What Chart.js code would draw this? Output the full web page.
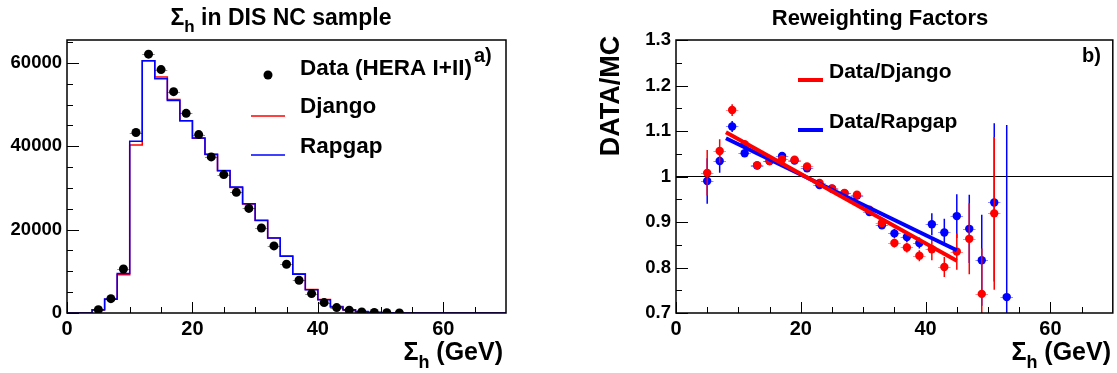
<!DOCTYPE html>
<html>
<head>
<meta charset="utf-8">
<script src="https://cdn.jsdelivr.net/npm/chart.js@4.4.1/dist/chart.umd.min.js"></script>
<style>
  html, body { margin: 0; padding: 0; background: #fff; }
  #wrap { position: relative; width: 1117px; height: 373px; }
  canvas { position: absolute; top: 0; }
  #chartSigma { left: 0; }
  #chartRatio { left: 558px; }
</style>
</head>
<body>
<div id="wrap">
  <canvas id="chartSigma" width="558" height="373"></canvas>
  <canvas id="chartRatio" width="559" height="373"></canvas>
</div>
<script>
// --- a) Sigma_h histogram (2 GeV bins) ---
const binEdges = [0, 2, 4, 6, 8, 10, 12, 14, 16, 18, 20, 22, 24, 26, 28, 30, 32, 34, 36, 38,
                  40, 42, 44, 46, 48, 50, 52, 54, 56, 58, 60, 62, 64, 66, 68, 70];
const djangoCounts = [0, 0, 790, 3270, 9200, 40300, 60500, 56600, 51250, 46150, 41900, 38000,
                      34200, 30100, 26150, 22250, 18000, 13700, 9400, 5650, 3250, 1560, 780, 300,
                      150, 55, 15, 0, 0, 0, 0, 0, 0, 0, 0];
const rapgapCounts = [0, 0, 800, 3350, 9450, 41200, 60500, 56200, 51000, 46150, 42000, 38100,
                      34150, 30250, 26200, 22200, 18000, 13600, 9300, 5550, 3200, 1450, 800, 330,
                      120, 50, 20, 0, 0, 0, 0, 0, 0, 0, 0];
const dataCenters = [5, 7, 9, 11, 13, 15, 17, 19, 21, 23, 25, 27, 29, 31, 33, 35, 37, 39, 41, 43,
                     45, 47, 49, 51, 53];
const dataCounts = [800, 3440, 10560, 43300, 62100, 58400, 53100, 47900, 42800, 37450, 33200,
                    28950, 25100, 20400, 16100, 11700, 7850, 4650, 2500, 1300, 650, 260, 110, 50, 20];
const sigmaTicks = [0, 20, 40, 60];
const countTicks = [0, 20000, 40000, 60000];
const countTickLabels = ['0', '20000', '40000', '60000'];

// --- b) reweighting factors ---
const ratioCenters = [5, 7, 9, 11, 13, 15, 17, 19, 21, 23, 25, 27, 29, 31, 33, 35, 37, 39, 41, 43,
                      45, 47, 49, 51, 53];
const ratioDjango = [1.008, 1.056, 1.146, 1.071, 1.025, 1.034, 1.038, 1.037, 1.022, 0.986, 0.974,
                     0.964, 0.960, 0.927, 0.898, 0.854, 0.844, 0.826, 0.840, 0.801, 0.835, 0.863,
                     0.742, 0.919, null];
const errDjango = [0.05, 0.026, 0.013, 0.006, 0.005, 0.005, 0.005, 0.005, 0.005, 0.005, 0.005,
                   0.005, 0.006, 0.007, 0.008, 0.010, 0.011, 0.012, 0.024, 0.022, 0.040, 0.078,
                   0.10, 0.168, 0];
const ratioRapgap = [0.990, 1.034, 1.110, 1.051, 1.024, 1.034, 1.045, 1.035, 1.018, 0.981, 0.973,
                     0.963, 0.958, 0.922, 0.893, 0.875, 0.867, 0.854, 0.895, 0.877, 0.913, 0.885,
                     0.816, 0.943, 0.735];
const errRapgap = [0.05, 0.026, 0.012, 0.006, 0.005, 0.005, 0.005, 0.005, 0.005, 0.005, 0.005,
                   0.005, 0.006, 0.007, 0.008, 0.010, 0.011, 0.012, 0.024, 0.030, 0.048, 0.075,
                   0.10, 0.174, 0.378];
const fitRange = [8, 45];
const fitDjango = [1.097, 0.815];
const fitRapgap = [1.084, 0.838];
const ratioTicks = [0.7, 0.8, 0.9, 1, 1.1, 1.2, 1.3];
const ratioTickLabels = ['0.7', '0.8', '0.9', '1', '1.1', '1.2', '1.3'];

const FONT = '"Liberation Sans", Arial, Helvetica, sans-serif';
const rojo = '#ff0000';
const azul = '#0000ff';

// texto con subindice: parts = [[texto, esSub]]
function drawSub(ctx, parts, x, y, align, size) {
  const big = 'bold ' + size + 'px ' + FONT;
  const small = 'bold ' + Math.round(size * 0.72) + 'px ' + FONT;
  let w = 0;
  parts.forEach(p => { ctx.font = p[1] ? small : big; w += ctx.measureText(p[0]).width; });
  let cx = align === 'center' ? x - w / 2 : (align === 'right' ? x - w : x);
  ctx.textAlign = 'left';
  ctx.textBaseline = 'alphabetic';
  ctx.fillStyle = '#000';
  parts.forEach(p => {
    ctx.font = p[1] ? small : big;
    ctx.fillText(p[0], cx, p[1] ? y + size * 0.32 : y);
    cx += ctx.measureText(p[0]).width;
  });
}

function drawText(ctx, txt, x, y, size) {
  ctx.font = 'bold ' + size + 'px ' + FONT;
  ctx.textAlign = 'left';
  ctx.textBaseline = 'alphabetic';
  ctx.fillStyle = '#000';
  ctx.fillText(txt, x, y);
}

// marco y marcas hacia dentro, estilo ROOT
const rootAxes = {
  id: 'rootAxes',
  afterDatasetsDraw(chart, args, opts) {
    const { ctx, chartArea: a, scales: { x, y } } = chart;
    ctx.save();
    ctx.strokeStyle = '#000';
    ctx.lineWidth = 1;
    ctx.beginPath();
    for (let v = x.min; v < x.max; v += opts.xMinor) {
      const px = Math.round(x.getPixelForValue(v)) + 0.5;
      const len = opts.xMajor.includes(v) ? 11 : 6;
      ctx.moveTo(px, a.bottom);
      ctx.lineTo(px, a.bottom - len);
    }
    const ny = Math.round((y.max - y.min) / opts.yMinor);
    for (let i = 0; i <= ny; i++) {
      const v = y.min + i * opts.yMinor;
      const py = Math.round(y.getPixelForValue(v)) + 0.5;
      const major = opts.yMajor.some(m => Math.abs(m - v) < opts.yMinor / 10);
      ctx.moveTo(a.left, py);
      ctx.lineTo(a.left + (major ? 12 : 6), py);
    }
    ctx.stroke();
    ctx.lineWidth = 1.5;
    ctx.strokeRect(a.left, a.top, a.right - a.left, a.bottom - a.top);
    ctx.restore();
  }
};

// barras de error (x: +-1 GeV, y: err)
const errorBars = {
  id: 'errorBars',
  beforeDatasetDraw(chart, args) {
    const ds = chart.data.datasets[args.index];
    if (!ds.errY && !ds.showXErr) return;
    const { ctx, chartArea: a, scales: { x, y } } = chart;
    ctx.save();
    ctx.beginPath();
    ctx.rect(a.left, a.top, a.right - a.left, a.bottom - a.top);
    ctx.clip();
    ds.data.forEach((p, i) => {
      const px = x.getPixelForValue(p.x);
      const py = y.getPixelForValue(p.y);
      ctx.globalAlpha = 0.45;
      ctx.strokeStyle = ds.pointBackgroundColor;
      ctx.lineWidth = 1;
      ctx.beginPath();
      ctx.moveTo(x.getPixelForValue(p.x - 1), Math.round(py) + 0.5);
      ctx.lineTo(x.getPixelForValue(p.x + 1), Math.round(py) + 0.5);
      ctx.stroke();
      if (ds.errY) {
        const e = ds.errY[i];
        ctx.globalAlpha = 1;
        ctx.lineWidth = 1.5;
        ctx.beginPath();
        ctx.moveTo(px, y.getPixelForValue(p.y + e));
        ctx.lineTo(px, y.getPixelForValue(p.y - e));
        ctx.stroke();
      }
    });
    ctx.restore();
  }
};

const leftDecor = {
  id: 'leftDecor',
  afterDraw(chart) {
    const ctx = chart.ctx;
    drawSub(ctx, [['\u03A3'], ['h', 1], [' in DIS NC sample']], 281, 25, 'center', 23);
    drawSub(ctx, [['\u03A3'], ['h', 1], [' (GeV)']], 503, 360, 'right', 25);
    // leyenda
    ctx.fillStyle = '#000';
    ctx.beginPath();
    ctx.arc(268, 75, 4.5, 0, Math.PI * 2);
    ctx.fill();
    ctx.lineWidth = 1.5;
    ctx.strokeStyle = rojo;
    ctx.beginPath(); ctx.moveTo(251, 116); ctx.lineTo(285, 116); ctx.stroke();
    ctx.strokeStyle = azul;
    ctx.beginPath(); ctx.moveTo(251, 155); ctx.lineTo(285, 155); ctx.stroke();
    drawText(ctx, 'Data (HERA I+II)', 300, 75, 22.5);
    drawText(ctx, 'Django', 300, 113, 22.5);
    drawText(ctx, 'Rapgap', 300, 153, 22.5);
    drawText(ctx, 'a)', 474, 62, 20);
  }
};

const rightDecor = {
  id: 'rightDecor',
  afterDraw(chart) {
    const ctx = chart.ctx;
    ctx.font = 'bold 22px ' + FONT;
    ctx.textAlign = 'center';
    ctx.fillStyle = '#000';
    ctx.fillText('Reweighting Factors', 322, 25);
    drawSub(ctx, [['\u03A3'], ['h', 1], [' (GeV)']], 553, 360, 'right', 25);
    ctx.save();
    ctx.translate(54, 96);
    ctx.rotate(-Math.PI / 2);
    ctx.font = 'bold 27px ' + FONT;
    ctx.textAlign = 'center';
    ctx.textBaseline = 'middle';
    ctx.fillText('DATA/MC', 0, 0);
    ctx.restore();
    ctx.lineWidth = 4;
    ctx.strokeStyle = rojo;
    ctx.beginPath(); ctx.moveTo(240, 80); ctx.lineTo(265, 80); ctx.stroke();
    ctx.strokeStyle = azul;
    ctx.beginPath(); ctx.moveTo(240, 130); ctx.lineTo(265, 130); ctx.stroke();
    drawText(ctx, 'Data/Django', 271, 78, 21);
    drawText(ctx, 'Data/Rapgap', 271, 128, 21);
    drawText(ctx, 'b)', 524, 62, 20);
  }
};

function histPoints(counts) {
  return binEdges.map((e, i) => ({ x: e, y: counts[Math.min(i, counts.length - 1)] }));
}

function xyPoints(xs, ys) {
  return xs.map((v, i) => ({ x: v, y: ys[i] })).filter(p => p.y !== null);
}

function xScale() {
  return {
    type: 'linear', min: 0, max: 70,
    grid: { display: false, drawTicks: false, tickLength: 0 },
    border: { display: false },
    ticks: { autoSkip: false, maxRotation: 0, padding: 4, color: '#000',
             font: { family: FONT, size: 20, weight: 'bold' } },
    afterBuildTicks: s => { s.ticks = sigmaTicks.map(v => ({ value: v })); },
    afterFit: s => { s.height = 60; s.paddingLeft = 0; s.paddingRight = 0; }
  };
}

function yScale(min, max, ticks, labels, width) {
  return {
    type: 'linear', min: min, max: max,
    grid: { display: false, drawTicks: false, tickLength: 0 },
    border: { display: false },
    ticks: { autoSkip: false, padding: 5, color: '#000',
             font: { family: FONT, size: 18.5, weight: 'bold' },
             callback: (v, i) => labels[i] },
    afterBuildTicks: s => { s.ticks = ticks.map(v => ({ value: v })); },
    afterFit: s => { s.width = width; s.paddingTop = 0; s.paddingBottom = 0; }
  };
}

// --- GRAFICO a) ---
new Chart(document.getElementById('chartSigma'), {
  type: 'line',
  data: {
    datasets: [
      { label: 'Data (HERA I+II)', data: xyPoints(dataCenters, dataCounts), showLine: false,
        pointRadius: 4.5, pointBackgroundColor: '#000', pointBorderWidth: 0, showXErr: true, order: 0 },
      { label: 'Rapgap', data: histPoints(rapgapCounts), stepped: 'before', borderColor: azul,
        borderWidth: 1.5, pointRadius: 0, fill: false, order: 1 },
      { label: 'Django', data: histPoints(djangoCounts), stepped: 'before', borderColor: rojo,
        borderWidth: 1.5, pointRadius: 0, fill: false, order: 2 }
    ]
  },
  options: {
    responsive: false,
    animation: false,
    layout: { padding: { top: 40, right: 52, left: 0, bottom: 0 } },
    scales: {
      x: xScale(),
      y: yScale(0, 65500, countTicks, countTickLabels, 67)
    },
    plugins: {
      legend: { display: false },
      tooltip: { enabled: false },
      rootAxes: { xMajor: sigmaTicks, xMinor: 5, yMajor: countTicks, yMinor: 5000 }
    }
  },
  plugins: [errorBars, rootAxes, leftDecor]
});

// --- GRAFICO b) ---
new Chart(document.getElementById('chartRatio'), {
  type: 'line',
  data: {
    datasets: [
      { label: 'Data/Django fit', data: xyPoints(fitRange, fitDjango), borderColor: rojo,
        borderWidth: 4, pointRadius: 0, order: 0 },
      { label: 'Data/Rapgap fit', data: xyPoints(fitRange, fitRapgap), borderColor: azul,
        borderWidth: 4, pointRadius: 0, order: 1 },
      { label: 'Data/Django', data: xyPoints(ratioCenters, ratioDjango), showLine: false,
        pointRadius: 4.2, pointBackgroundColor: rojo, pointBorderWidth: 0,
        errY: errDjango.filter((e, i) => ratioDjango[i] !== null), order: 2 },
      { label: 'Data/Rapgap', data: xyPoints(ratioCenters, ratioRapgap), showLine: false,
        pointRadius: 4.2, pointBackgroundColor: azul, pointBorderWidth: 0,
        errY: errRapgap, order: 3 },
      { label: 'unity', data: [{ x: 0, y: 1 }, { x: 70, y: 1 }], borderColor: '#000',
        borderWidth: 1, pointRadius: 0, order: 10 }
    ]
  },
  options: {
    responsive: false,
    animation: false,
    layout: { padding: { top: 40, right: 3, left: 0, bottom: 0 } },
    scales: {
      x: xScale(),
      y: yScale(0.7, 1.3, ratioTicks, ratioTickLabels, 118)
    },
    plugins: {
      legend: { display: false },
      tooltip: { enabled: false },
      rootAxes: { xMajor: sigmaTicks, xMinor: 5, yMajor: ratioTicks, yMinor: 0.05 }
    }
  },
  plugins: [errorBars, rootAxes, rightDecor]
});
</script>
</body>
</html>
